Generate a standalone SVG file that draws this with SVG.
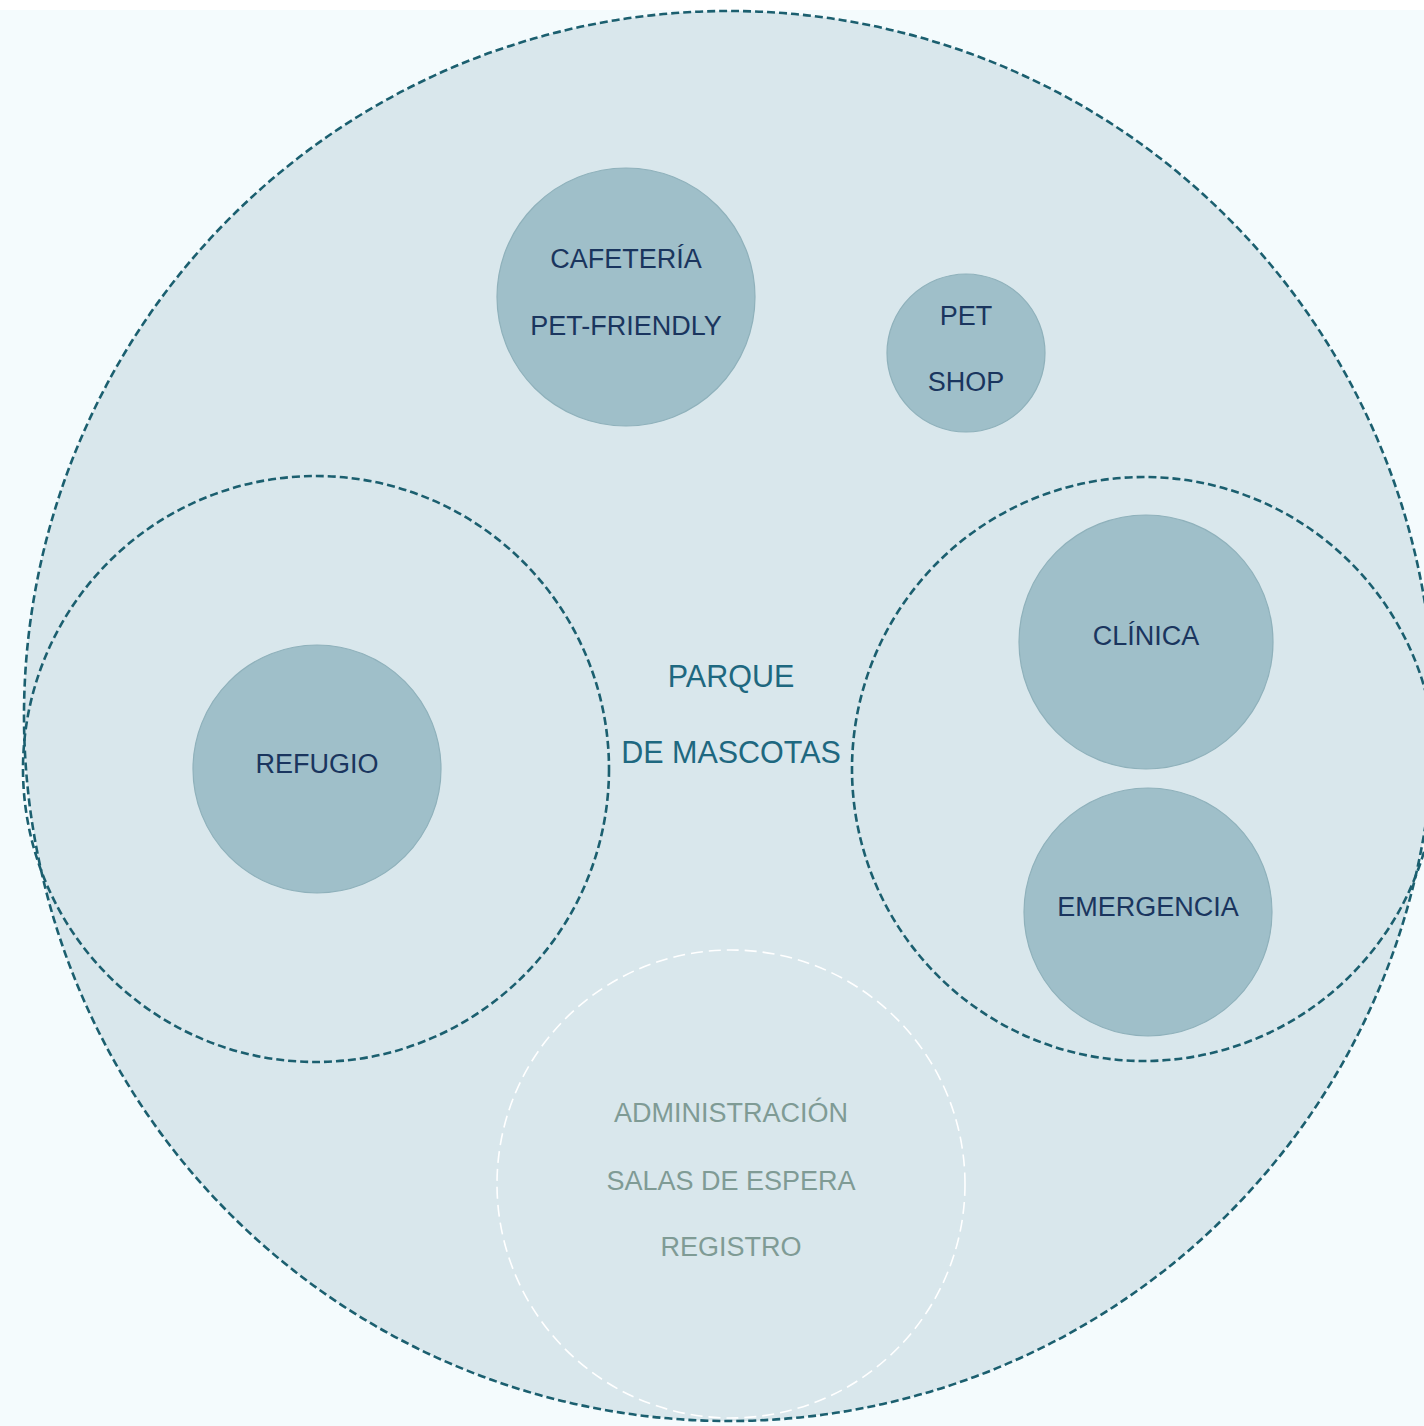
<svg xmlns="http://www.w3.org/2000/svg" width="1424" height="1426" viewBox="0 0 1424 1426">
<style>
.zone{fill:none;stroke:#1b5f6f;stroke-width:2.6;stroke-dasharray:8 4}
.node{fill:#9fbfc9;stroke:#8fb1bb;stroke-width:1.2}
.lbl{font-family:"Liberation Sans",Arial,sans-serif;font-size:27px;fill:#1a355e;text-anchor:middle;dominant-baseline:central}
.main{font-family:"Liberation Sans",Arial,sans-serif;font-size:30.5px;fill:#1e6880;text-anchor:middle;dominant-baseline:central}
.adm{font-family:"Liberation Sans",Arial,sans-serif;font-size:27px;fill:#7f9b95;text-anchor:middle;dominant-baseline:central}
</style>
<rect x="0" y="0" width="1424" height="1426" fill="#f4fbfd"/>
<rect x="0" y="0" width="1424" height="10" fill="#ffffff"/>
<g id="parque">
<circle cx="729" cy="716" r="705" class="zone" style="fill:#d9e7ec"/>
<text class="main" x="731" y="676">PARQUE</text>
<text class="main" x="731" y="752">DE MASCOTAS</text>
</g>
<g id="zona-refugio">
<circle cx="316" cy="769" r="293" class="zone"/>
</g>
<g id="zona-clinica">
<circle cx="1144" cy="769" r="292" class="zone"/>
</g>
<g id="administracion">
<circle cx="731" cy="1184" r="234" fill="none" stroke="#ffffff" stroke-width="1.6" stroke-dasharray="12 6"/>
<text class="adm" x="731" y="1113">ADMINISTRACIÓN</text>
<text class="adm" x="731" y="1181">SALAS DE ESPERA</text>
<text class="adm" x="731" y="1247">REGISTRO</text>
</g>
<g id="cafeteria">
<circle class="node" cx="626" cy="297" r="129"/>
<text class="lbl" x="626" y="259">CAFETERÍA</text>
<text class="lbl" x="626" y="326">PET-FRIENDLY</text>
</g>
<g id="petshop">
<circle class="node" cx="966" cy="353" r="79"/>
<text class="lbl" x="966" y="316">PET</text>
<text class="lbl" x="966" y="382">SHOP</text>
</g>
<g id="refugio">
<circle class="node" cx="317" cy="769" r="124"/>
<text class="lbl" x="317" y="764">REFUGIO</text>
</g>
<g id="clinica">
<circle class="node" cx="1146" cy="642" r="127"/>
<text class="lbl" x="1146" y="636">CLÍNICA</text>
</g>
<g id="emergencia">
<circle class="node" cx="1148" cy="912" r="124"/>
<text class="lbl" x="1148" y="907">EMERGENCIA</text>
</g>
<g id="connectors"></g>
</svg>
